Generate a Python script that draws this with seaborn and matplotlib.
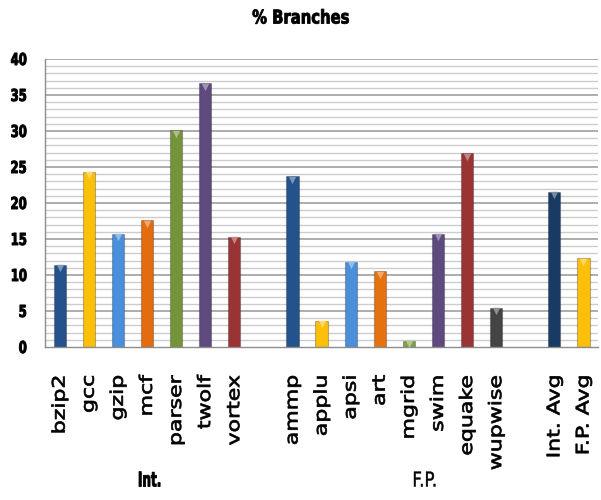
import matplotlib
matplotlib.use("Agg")
import matplotlib.pyplot as plt
from matplotlib.ticker import MultipleLocator, FixedLocator
from matplotlib.patheffects import AbstractPathEffect
from matplotlib.transforms import Affine2D
import numpy as np
import pandas as pd
import seaborn as sns

# Benchmarks (blank slots separate the groups)
int_names = ["bzip2", "gcc", "gzip", "mcf", "parser", "twolf", "vortex"]
int_values = [11.4, 24.3, 15.7, 17.6, 30.1, 36.6, 15.3]
fp_names = ["ammp", "applu", "apsi", "art", "mgrid", "swim", "equake", "wupwise"]
fp_values = [23.7, 3.6, 11.8, 10.5, 0.85, 15.7, 26.9, 5.4]
avg_names = ["Int. Avg", "F.P. Avg"]
avg_values = [21.5, 12.3]

colors = {
    "bzip2": "#24528c", "gcc": "#fcbf0a", "gzip": "#4a8fdc", "mcf": "#e56c0e",
    "parser": "#74943a", "twolf": "#5f4a80", "vortex": "#9a3434",
    "ammp": "#24528c", "applu": "#fcbf0a", "apsi": "#4a8fdc", "art": "#e5720e",
    "mgrid": "#7fa045", "swim": "#5f4a80", "equake": "#9a3434", "wupwise": "#444444",
    "Int. Avg": "#193a63", "F.P. Avg": "#fcbf0a",
    " ": "#ffffff", "  ": "#ffffff",
}

labels = int_names + [" "] + fp_names + ["  "] + avg_names
values = int_values + [np.nan] + fp_values + [np.nan] + avg_values
df = pd.DataFrame({"bench": labels, "pct": values})


class Stretch(AbstractPathEffect):
    """Scale glyph outlines along the text baseline, with an optional outline
    stroke to make the strokes heavier."""

    def __init__(self, sx=1.0, sy=1.0, anchor="start", stroke=0.0):
        super().__init__()
        self.sx, self.sy, self.anchor, self.stroke = sx, sy, anchor, stroke

    def draw_path(self, renderer, gc, tpath, affine, rgbFace=None):
        xs = tpath.vertices[:, 0]
        if len(xs) == 0:
            return
        if self.anchor == "end":
            x0 = xs.max()
        elif self.anchor == "center":
            x0 = (xs.min() + xs.max()) / 2
        else:
            x0 = 0.0
        tr = Affine2D().translate(-x0, 0).scale(self.sx, self.sy).translate(x0, 0)
        gc0 = renderer.new_gc()
        gc0.copy_properties(gc)
        if self.stroke > 0:
            gc0.set_linewidth(self.stroke)
            gc0.set_foreground(rgbFace)
        renderer.draw_path(gc0, tpath, tr + affine, rgbFace)
        gc0.restore()


sns.set_style("white")
plt.rcParams["text.color"] = "black"
plt.rcParams["xtick.color"] = "black"
plt.rcParams["ytick.color"] = "black"

fig = plt.figure(figsize=(6.01, 5.0), dpi=100)
ax = fig.add_axes([0.075, 0.306, 0.92, 0.576])

# grid: light lines every unit, darker ones every 5
for y in range(1, 41):
    major = (y % 5 == 0)
    ax.axhline(y, color="#a0a0a0" if major else "#cccccc",
               lw=1.2 if major else 1.0, zorder=0)

sns.barplot(data=df, x="bench", y="pct", hue="bench", order=labels,
            palette=colors, legend=False, width=0.42, ax=ax,
            edgecolor="#00000040", linewidth=0.8, saturation=1, zorder=2)

# bevel highlight at the top of each bar
def lighten(c, f=0.4):
    rgb = np.array(matplotlib.colors.to_rgb(c))
    return tuple(rgb + (1 - rgb) * f)

for i, (lab, v) in enumerate(zip(labels, values)):
    if np.isnan(v):
        continue
    ax.scatter(i, v - min(0.45, v / 2), marker="v", s=28,
               color=lighten(colors[lab]), zorder=3, linewidths=0)

ax.set_xlim(-0.5, len(labels) - 0.5)
ax.set_ylim(0, 40)
ax.yaxis.set_major_locator(MultipleLocator(5))
ax.set_xlabel("")
ax.set_ylabel("")

for s in ["top", "right"]:
    ax.spines[s].set_visible(False)
for s in ["left", "bottom"]:
    ax.spines[s].set_color("#8c8c8c")
    ax.spines[s].set_linewidth(1.0)

ax.tick_params(axis="y", length=4, color="#8c8c8c", pad=9)
for t in ax.get_yticklabels():
    t.set_fontfamily("DejaVu Sans")
    t.set_fontweight("bold")
    t.set_fontsize(11)
    t.set_path_effects([Stretch(0.76, 1.08, "end", stroke=0.7)])

ax.xaxis.set_minor_locator(FixedLocator(np.arange(-0.5, len(labels), 1.0)))
ax.tick_params(axis="x", which="minor", length=5, color="#8c8c8c", direction="out")
ax.tick_params(axis="x", which="major", length=0, pad=20)
ax.set_xticks(range(len(labels)))
ax.set_xticklabels(labels, rotation=90, fontsize=12.5, family="DejaVu Sans",
                   va="top", ha="center")
for t in ax.get_xticklabels():
    t.set_path_effects([Stretch(1.27, 1.0, "end", stroke=0.5)])

fig.text(0.5, 0.963, "% Branches", ha="center", va="center",
         family="DejaVu Sans", fontweight="bold", fontsize=13,
         path_effects=[Stretch(0.82, 1.05, "center", stroke=0.6)])
fig.text(150 / 601, 1 - 481 / 500, "Int.", ha="center", va="center",
         family="DejaVu Sans", fontweight="bold", fontsize=14,
         path_effects=[Stretch(0.62, 1.05, "center", stroke=0.6)])
fig.text(425 / 601, 1 - 481 / 500, "F.P.", ha="center", va="center",
         family="DejaVu Sans", fontsize=14,
         path_effects=[Stretch(0.85, 1.05, "center", stroke=0.3)])

fig.savefig("out.png", dpi=100)
